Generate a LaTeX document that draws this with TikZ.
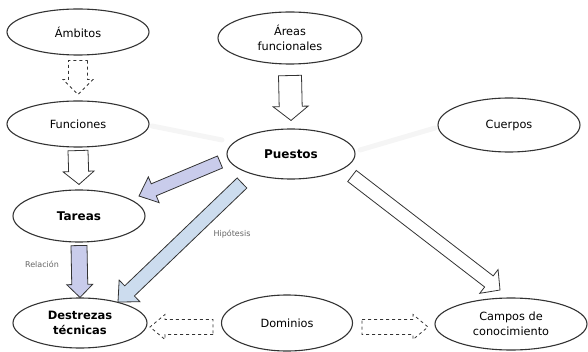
\documentclass[tikz,border=0pt]{standalone}
\usepackage{fontspec}
\setmainfont{DejaVu Sans}
\usetikzlibrary{calc,shapes.geometric}
\definecolor{lavender}{HTML}{C9CCEB}
\definecolor{paleblue}{HTML}{CCDCEE}
\definecolor{outline}{HTML}{333333}

\tikzset{
  blockarrow/.style n args={3}{to path={
    let \p1=(\tikztostart), \p2=(\tikztotarget),
        \n1={atan2(\y2-\y1,\x2-\x1)}, \n2={veclen(\x2-\x1,\y2-\y1)} in
    ($(\p1)+(\n1+90:#1)$) -- ($(\p1)+(\n1:\n2-#3)+(\n1+90:#1)$)
    -- ($(\p1)+(\n1:\n2-#3)+(\n1+90:#2)$) -- (\p2)
    -- ($(\p1)+(\n1:\n2-#3)+(\n1-90:#2)$) -- ($(\p1)+(\n1:\n2-#3)+(\n1-90:#1)$)
    -- ($(\p1)+(\n1-90:#1)$) -- cycle}}
}

\begin{document}
\begin{tikzpicture}[x=1pt,y=1pt,
    ell/.style={draw=outline, line width=1.1pt, ellipse, inner sep=0pt, align=center,
      font=\fontsize{11.3}{15}\selectfont},
    hollow/.style={draw=outline, line width=0.8pt, fill=white},
    note/.style={font=\fontsize{8}{9}\selectfont, text=black!60}]
   \useasboundingbox (0,0) rectangle (588,351);
   % top row
   \node[ell, minimum width=142pt, minimum height=46pt] (ambitos) at (78,319) {Ámbitos};
   \node[ell, minimum width=144pt, minimum height=52pt] (areas) at (290,313) {Áreas\\funcionales};
   % middle rows
   \node[ell, minimum width=142pt, minimum height=46pt] (funciones) at (78,227) {Funciones};
   \node[ell, minimum width=128pt, minimum height=50pt, font=\fontsize{12}{15}\bfseries] (puestos) at (291,197) {Puestos};
   \node[ell, minimum width=142pt, minimum height=54pt] (cuerpos) at (509,226) {Cuerpos};
   \node[ell, minimum width=132pt, minimum height=52pt, font=\fontsize{12}{15}\bfseries] (tareas) at (79,135) {Tareas};
   % bottom row
   \node[ell, minimum width=134pt, minimum height=50pt, font=\fontsize{11.5}{15}\bfseries] (destrezas) at (80,28) {Destrezas\\técnicas};
   \node[ell, minimum width=131pt, minimum height=56pt] (dominios) at (287,28) {Dominios};
   \node[ell, minimum width=152pt, minimum height=52pt] (campos) at (511,27) {Campos de\\conocimiento};
   % faint links
   \draw[line width=5pt, black!4, line cap=round] ($(funciones.center)+(74,-2)$) -- ($(puestos.center)+(-69,14)$);
   \draw[line width=5pt, black!4, line cap=round] ($(puestos.center)+(69,4)$) -- ($(cuerpos.center)+(-74,-3)$);
   % block arrows
   \draw[hollow, dashed] ($(ambitos.south)+(0,-5)$) to[blockarrow={9.5}{15}{15}] ($(funciones.north)+(0,6)$);
   \draw[hollow] ($(funciones.south)+(0,-3)$) to[blockarrow={10}{15.5}{13}] ($(tareas.north)+(0,5)$);
   \draw[hollow] ($(areas.south)+(0,-11)$) to[blockarrow={11.5}{17.5}{14}] ($(puestos.north)+(0,8)$);
   \draw[hollow, fill=lavender] ($(tareas.south)+(0,-3)$) to[blockarrow={8}{13}{13}] (destrezas.north);
   \draw[hollow, fill=lavender] ($(puestos.center)+(-71,-8)$) to[blockarrow={6.5}{14}{16}] ($(tareas.center)+(60,20)$);
   \draw[hollow, fill=paleblue] ($(puestos.center)+(-49,-29)$) to[blockarrow={7}{15}{16}] ($(destrezas.center)+(38,21)$);
   \draw[hollow] ($(puestos.center)+(61,-22)$) to[blockarrow={7}{15}{14}] ($(campos.center)+(-11,34)$);
   \draw[hollow, dashed] ($(dominios.center)+(-74,-4)$) to[blockarrow={7.5}{12.5}{15}] ($(destrezas.center)+(70,-4)$);
   \draw[hollow, dashed] ($(dominios.center)+(75,-4)$) to[blockarrow={7.5}{12.5}{15}] ($(campos.center)+(-83,-3)$);
   % labels
   \node[note] (hipotesis) at (232,117) {Hipótesis};
   \node[note] (relacion) at (42,87) {Relación};
\end{tikzpicture}
\end{document}
